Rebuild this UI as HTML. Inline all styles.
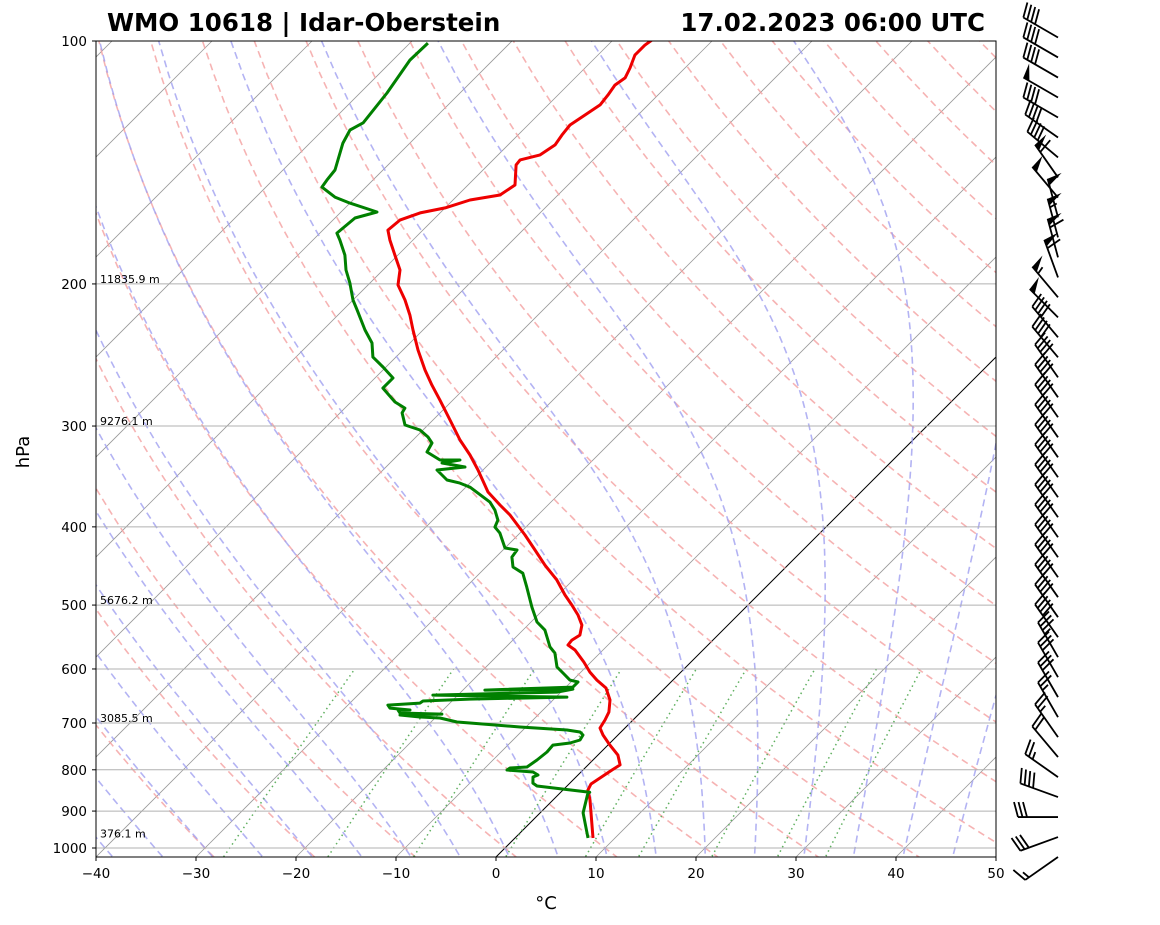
<!DOCTYPE html>
<html><head><meta charset="utf-8"><style>
body{margin:0;background:#fff;}
svg{display:block;font-family:"DejaVu Sans","Liberation Sans",sans-serif;}
</style></head><body>
<svg id="chart" width="1160" height="925" viewBox="0 0 1160 925" xmlns="http://www.w3.org/2000/svg">
<defs><clipPath id="plotclip"><rect x="96" y="41" width="900" height="816"/></clipPath></defs>
<rect width="1160" height="925" fill="#fff"/>
<g id="bg" clip-path="url(#plotclip)"></g>
<g id="grid"></g>
<g id="profiles" clip-path="url(#plotclip)"></g>
<g id="axes"></g>
<g id="barbs"></g>
<text x="107" y="31" font-size="24.5" font-weight="bold">WMO 10618 | Idar-Oberstein</text>
<text x="985" y="31" font-size="24.5" font-weight="bold" text-anchor="end">17.02.2023 06:00 UTC</text>
<text x="29" y="452" font-size="18" text-anchor="middle" transform="rotate(-90 29 452)">hPa</text>
<text x="546" y="909" font-size="18" text-anchor="middle">°C</text>
</svg>
<script>
// ---- data ----
const tempP=[971.9,871.9,847.6,833.1,819.0,800.4,789.0,767.1,745.5,724.4,710.1,694.1,678.5,655.6,633.5,619.3,605.3,588.3,568.4,560.3,552.5,544.7,529.4,514.4,500.0,485.9,465.6,446.1,427.3,409.4,386.7,375.8,362.1,340.1,325.8,312.2,294.9,278.6,266.9,255.7,241.5,228.1,218.6,209.4,200.6,192.2,184.2,176.5,171.5,166.7,163.3,161.0,157.4,155.2,150.8,142.4,140.4,138.4,134.5,130.8,127.1,123.5,120.0,116.7,113.4,111.1,108.0,104.1,101.2,99];
const tempT=[7.8,3.7,2.5,2.2,2.5,2.9,3.2,2.0,0.2,-1.5,-2.5,-2.8,-3.2,-4.3,-5.9,-7.6,-9.1,-10.7,-12.8,-14.0,-14.1,-13.8,-14.6,-16.0,-17.6,-19.3,-21.6,-24.3,-26.8,-29.3,-32.8,-34.8,-37.3,-40.5,-42.8,-45.3,-48.3,-51.3,-53.6,-55.8,-58.5,-61.0,-62.8,-64.8,-67.0,-68.3,-70.3,-72.3,-73.5,-73.3,-72.0,-70.0,-68.3,-65.8,-65.3,-67.2,-67.3,-65.8,-65.3,-65.6,-65.8,-65.3,-64.8,-65.0,-65.3,-65.0,-65.5,-66.3,-66.3,-66.0];
const dewP=[971.9,904.6,854.9,853,837.9,830.9,816.6,811.9,805.0,800.4,796,793.7,778.0,760.3,745.5,741.2,734.9,724.4,718.3,714.2,708.1,700.0,698.1,690.1,688.2,684.3,682.4,680.4,674.6,674.6,670.8,665.1,661.3,657.5,653.8,650.1,646.4,640.9,635.4,637.3,631.8,622.8,619.3,607.0,596.7,573.4,563.6,547.7,537.0,524.8,502.9,475.1,456.5,448.5,436.0,427.3,424.9,407.2,400.3,392.4,381.3,372.7,357.1,353.0,349.9,340.1,337.2,333.4,330.5,330.5,323.1,314.9,309.5,303.4,299.1,289.0,285.0,280.1,269.2,261.6,253.5,246.4,236.7,228.1,215.4,209.4,199.5,192.2,184.2,176.5,173.0,165.7,162.9,158.8,156.1,151.7,148.7,144.5,133.8,128.9,126.3,116.0,105.6,100.6];
const dewT=[7.3,4.3,2.8,2.9,-3.0,-3.7,-4.3,-4.0,-4.8,-7.6,-7.5,-5.9,-5.6,-5.4,-5.5,-4.0,-3.3,-3.5,-4.1,-5.6,-10.6,-16.0,-17.4,-19.5,-21.6,-23.8,-19.7,-24.0,-24.5,-23.3,-25.5,-26.0,-23.0,-22.9,-18.4,-8.9,-22.5,-10.4,-9.1,-17.8,-9.3,-9.3,-10.3,-11.7,-12.9,-14.5,-15.6,-16.9,-17.8,-19.4,-21.4,-23.9,-25.7,-27.3,-28.4,-28.6,-30.0,-32.0,-33.1,-33.5,-34.8,-36.1,-39.6,-41.0,-42.6,-44.6,-42.1,-44.8,-43.3,-45.3,-47.4,-47.8,-48.8,-50.3,-52.3,-53.8,-54.0,-55.6,-58.2,-58.2,-60.3,-62.3,-63.8,-65.8,-68.6,-70.0,-72.0,-73.7,-75.3,-77.3,-78.3,-78.0,-76.4,-80.0,-82.1,-84.4,-84.6,-84.8,-86.7,-87.3,-86.7,-87.3,-88.3,-88.2];
const windP=[99,104.8,111.0,117.5,124.4,131.7,139.4,147.6,156.3,165.4,175.1,185.4,196.3,207.8,220.0,232.9,246.6,261.1,276.4,292.6,309.8,328.0,347.2,367.6,389.2,412.0,436.2,461.8,488.9,517.6,548.0,580.1,614.2,650.2,688.4,728.8,771.5,816.8,864.8,915.5,969.3,1026];
const windSpd=[40,40,40,50,40,40,40,60,50,50,55,60,60,55,50,40,40,40,40,40,40,40,40,40,40,40,40,40,40,40,40,35,30,30,25,25,20,25,40,30,30,15];
const windDir=[300,300,300,300,300,305,310,325,320,345,345,345,340,320,315,320,320,325,325,325,325,325,325,325,325,325,325,325,325,325,325,330,330,330,330,325,320,305,290,270,250,235];
const xTicks=[-40,-30,-20,-10,0,10,20,30,40,50];
const pTicks=[100,200,300,400,500,600,700,800,900,1000];
const heightP=[200,300,500,700,973];
const heightLabels=["11835.9 m","9276.1 m","5676.2 m","3085.5 m","376.1 m"];
const mixRatios=[0.0004,0.001,0.002,0.004,0.007,0.01,0.016,0.024,0.032];

// ---- scales ----
const X0=96,X1=996,Y0=41,Y1=857;
const pBot=100*Math.pow(10,(Y1-Y0)/807);
function yP(p){return Y0+807*Math.log10(p/100);}
function xT(T,p){return X0+(T+40)*10+(Y1-yP(p));}
const NS="http://www.w3.org/2000/svg";
function mk(tag,attrs,parent){const e=document.createElementNS(NS,tag);for(const k in attrs)e.setAttribute(k,attrs[k]);parent.appendChild(e);return e;}
function pathFrom(ps,ts){let d="";for(let i=0;i<ps.length;i++){d+=(i?"L":"M")+xT(ts[i],ps[i]).toFixed(1)+","+yP(ps[i]).toFixed(1);}return d;}
const bg=document.getElementById('bg'),grid=document.getElementById('grid'),prof=document.getElementById('profiles'),axes=document.getElementById('axes'),barbs=document.getElementById('barbs');

for(let T=-130;T<=50;T+=10){
 const l=mk('line',{x1:xT(T,pBot),y1:Y1,x2:xT(T,100),y2:Y0,stroke:T===0?'#000':'#999',"stroke-width":T===0?1:0.8},bg);
 
 
}
const plevs=[];for(let p=1050;p>=100;p-=10)plevs.push(p);
for(let th=-30;th<=200;th+=10){
 const ts=plevs.map(p=>(th+273.15)*Math.pow(p/1000,0.2857)-273.15);
 const l=mk('path',{d:pathFrom(plevs,ts),fill:'none',stroke:'#f4a0a0',"stroke-width":1.6,"stroke-dasharray":"7,4.5","opacity":0.8},bg);
 
 
}
function es(T){return 6.112*Math.exp(17.67*T/(T+243.5));}
function moist(t0){
 const Rd=287.04,cp=1005.7,Lv=2.501e6,eps=0.622;
 let up=[],down=[];
 function step(T,p,dp){const Tk=T+273.15;const rs=eps*es(T)/(p-es(T));
  const g=(Rd*Tk+Lv*rs)/(cp+Lv*Lv*rs*eps/(Rd*Tk*Tk))/p;return T+g*dp;}
 let T=t0,p=1000;up.push([p,T]);
 while(p>100){for(let k=0;k<10;k++){T=step(T,p,-1);p-=1;}up.push([p,T]);}
 T=t0;p=1000;
 while(p<1050){for(let k=0;k<10;k++){T=step(T,p,1);p+=1;}down.unshift([p,T]);}
 return down.concat(up);
}
for(let t0=-50;t0<=45;t0+=5){
 const pts=moist(t0);
 const l=mk('path',{d:pathFrom(pts.map(a=>a[0]),pts.map(a=>a[1])),fill:'none',stroke:'#a0a0f0',"stroke-width":1.6,"stroke-dasharray":"7,4.5",opacity:0.8},bg);
 
 
}
mixRatios.forEach(w=>{
 const ps=[];for(let p=1050;p>=600;p-=10)ps.push(p);
 const ts=ps.map(p=>{const e=p*w/(0.622+w);const a=Math.log(e/6.112);return 243.5*a/(17.67-a);});
 const l=mk('path',{d:pathFrom(ps,ts),fill:'none',stroke:'#60b060',"stroke-width":1.5,"stroke-dasharray":"1.5,3.5"},bg);
 
 
});
pTicks.forEach(p=>{
 const y=yP(p);
 const g=mk('line',{x1:X0,x2:X1,y1:y,y2:y,stroke:'#b0b0b0',"stroke-width":1},grid);
 
 
 mk('line',{x1:X0-4,x2:X0,y1:y,y2:y,stroke:'#000'},axes);
 const t=mk('text',{x:X0-9,y:y+5,"font-size":13.5,"text-anchor":"end"},axes);
 t.textContent=p;
 
 
});
heightP.forEach((p,i)=>{
 const t=mk('text',{x:100,y:yP(p)-1,"font-size":11},grid);
 t.textContent=heightLabels[i];
 
 
});
xTicks.forEach(T=>{
 const x=X0+(T+40)*10;
 mk('line',{x1:x,x2:x,y1:Y1,y2:Y1+4,stroke:'#000'},axes);
 const t=mk('text',{x:x,y:Y1+21,"font-size":13.5,"text-anchor":"middle"},axes);
 t.textContent=(T<0?'\u2212'+(-T):T);
 
 
});
const fr=mk('rect',{x:X0,y:Y0,width:X1-X0,height:Y1-Y0,fill:'none',stroke:'#000',"stroke-width":1},axes);


const tl=mk('path',{d:pathFrom(tempP,tempT),fill:'none',stroke:'#ee0000',"stroke-width":3,"stroke-linejoin":"round"},prof);


const dl=mk('path',{d:pathFrom(dewP,dewT),fill:'none',stroke:'#008000',"stroke-width":3,"stroke-linejoin":"round"},prof);


windP.forEach((p,i)=>{
 const bx=1058,by=yP(p);
 const a=windDir[i]*Math.PI/180;
 const dx=Math.sin(a),dy=-Math.cos(a);
 const L=40,tx=bx+dx*L,ty=by+dy*L;
 const g=mk('g',{},barbs);
 
 
 mk('line',{x1:bx,y1:by,x2:tx,y2:ty,stroke:'#000',"stroke-width":1.8},g);
 const px=-dy,py=dx;
 let s=windSpd[i],pos=0;
 const at=d=>[tx-dx*d,ty-dy*d];
 while(s>=50){const [x0,y0]=at(pos),[x1,y1]=at(pos+7);
  mk('polygon',{points:`${x0},${y0} ${x0+px*15+dx*2},${y0+py*15+dy*2} ${x1},${y1}`,fill:'#000'},g);pos+=9;s-=50;}
 while(s>=10){const [x0,y0]=at(pos);
  mk('line',{x1:x0,y1:y0,x2:x0+px*15+dx*4,y2:y0+py*15+dy*4,stroke:'#000',"stroke-width":1.8},g);pos+=4.5;s-=10;}
 if(s>=5){if(pos===0)pos=4.5;const [x0,y0]=at(pos);
  mk('line',{x1:x0,y1:y0,x2:x0+px*7.5+dx*2,y2:y0+py*7.5+dy*2,stroke:'#000',"stroke-width":1.8},g);}
});
</script>
</body></html>
